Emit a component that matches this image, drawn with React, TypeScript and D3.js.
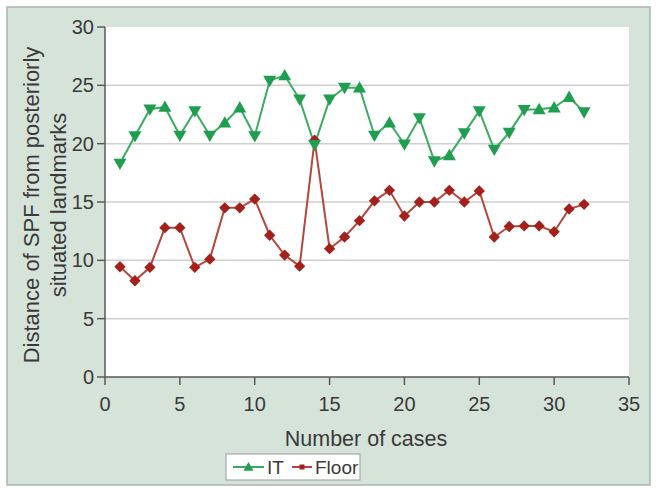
import React from "react";
import * as d3 from "d3";

const cases = [1,2,3,4,5,6,7,8,9,10,11,12,13,14,15,16,17,18,19,20,21,22,23,24,25,26,27,28,29,30,31,32];
const itValues = [18.3,20.65,22.95,23.15,20.7,22.8,20.7,21.8,23.1,20.65,25.4,25.85,23.8,19.9,23.8,24.8,24.8,20.7,21.8,19.95,22.2,18.5,19.0,20.9,22.8,19.5,20.95,22.9,22.95,23.1,24.0,22.7];
const floorValues = [9.45,8.25,9.4,12.8,12.8,9.4,10.1,14.5,14.5,15.25,12.15,10.45,9.5,20.3,11.0,12.0,13.4,15.1,16.0,13.8,15.0,15.0,16.0,15.0,15.95,12.0,12.9,12.95,12.95,12.45,14.4,14.8];
// marker orientation of the IT triangles (true = pointing up)
const itMarkerUp = [false,false,false,true,false,false,false,true,true,false,false,true,false,false,false,false,true,false,true,false,false,false,true,false,false,false,false,false,true,true,true,false];
const xTicks = [0,5,10,15,20,25,30,35];
const yTicks = [0,5,10,15,20,25,30];
const seriesNames = ["IT", "Floor"];

const FONT = "'Liberation Sans', Arial, sans-serif";
const TXT = "#3a3a3a";
const GREEN = "#1f9e4f";
const GREEN_LINE = "#3cab62";
const RED = "#a3201c";
const RED_LINE = "#b5463b";

export default function App() {
  const left = 105, right = 629, top = 27, bottom = 377;
  const x = d3.scaleLinear().domain([0, 35]).range([left, right]);
  const y = d3.scaleLinear().domain([0, 30]).range([bottom, top]);
  const line = d3.line<number>().x((_, i) => x(cases[i])).y((v) => y(v));
  const tri = (cx: number, cy: number, up: boolean, s = 6.5) =>
    up
      ? `M${cx},${cy - s} L${cx + s},${cy + s * 0.75} L${cx - s},${cy + s * 0.75} Z`
      : `M${cx},${cy + s} L${cx + s},${cy - s * 0.75} L${cx - s},${cy - s * 0.75} Z`;

  return (
    <svg width={656} height={489} style={{ position: "absolute", left: 0, top: 0 }} fontFamily={FONT}>
      <rect x={0} y={0} width={656} height={489} fill="#ffffff" />
      <rect x={7} y={7} width={643} height={478} fill="#d6e3d9" stroke="#a9b9ad" strokeWidth={1.5} />
      <rect x={left} y={top} width={right - left} height={bottom - top} fill="#ffffff" />
      {yTicks.filter((t) => t > 0 && t < 30).map((t) => (
        <line key={"g" + t} x1={left} x2={right} y1={y(t)} y2={y(t)} stroke="#cfcfcf" strokeWidth={1.5} />
      ))}
      {/* axes */}
      <line x1={left} x2={left} y1={top} y2={bottom} stroke="#5a5a5a" strokeWidth={1.5} />
      <line x1={left} x2={right} y1={bottom} y2={bottom} stroke="#5a5a5a" strokeWidth={1.5} />
      {yTicks.map((t) => (
        <g key={"yt" + t}>
          <line x1={left - 8} x2={left} y1={y(t)} y2={y(t)} stroke="#5a5a5a" strokeWidth={1.5} />
          <text x={left - 11} y={y(t)} dy="0.35em" textAnchor="end" fontSize={20} fill={TXT}>{t}</text>
        </g>
      ))}
      {xTicks.map((t) => (
        <g key={"xt" + t}>
          <line x1={x(t)} x2={x(t)} y1={bottom} y2={bottom + 8} stroke="#5a5a5a" strokeWidth={1.5} />
          <text x={x(t)} y={404} dy="0.35em" textAnchor="middle" fontSize={20} fill={TXT}>{t}</text>
        </g>
      ))}
      <text x={366} y={438} dy="0.35em" textAnchor="middle" fontSize={21.5} fill={TXT}>Number of cases</text>
      <g transform="translate(31,205) rotate(-90)">
        <text x={0} y={0} dy="0.35em" textAnchor="middle" fontSize={22} fill={TXT}>Distance of SPF from posteriorly</text>
        <text x={0} y={27} dy="0.35em" textAnchor="middle" fontSize={22} fill={TXT}>situated landmarks</text>
      </g>
      {/* series */}
      <path d={line(floorValues) || ""} fill="none" stroke={RED_LINE} strokeWidth={2} />
      <path d={line(itValues) || ""} fill="none" stroke={GREEN_LINE} strokeWidth={2} />
      {floorValues.map((v, i) => (
        <rect key={"f" + i} x={x(cases[i]) - 4} y={y(v) - 4} width={8} height={8} fill={RED} transform={`rotate(45 ${x(cases[i])} ${y(v)})`} />
      ))}
      {itValues.map((v, i) => (
        <path key={"i" + i} d={tri(x(cases[i]), y(v), itMarkerUp[i])} fill={GREEN} />
      ))}
      {/* legend */}
      <rect x={226} y={454} width={134} height={26} fill="#ffffff" stroke="#9a9a9a" strokeWidth={1} />
      <line x1={233} x2={264} y1={467} y2={467} stroke={GREEN_LINE} strokeWidth={2} />
      <path d={tri(248.5, 467, true, 5)} fill={GREEN} />
      <text x={267} y={467} dy="0.35em" fontSize={19} fill={TXT}>{seriesNames[0]}</text>
      <line x1={292} x2={312} y1={467} y2={467} stroke={RED_LINE} strokeWidth={2} />
      <rect x={299.5} y={464.5} width={5} height={5} fill={RED} />
      <text x={315} y={467} dy="0.35em" fontSize={19} fill={TXT}>{seriesNames[1]}</text>
    </svg>
  );
}
